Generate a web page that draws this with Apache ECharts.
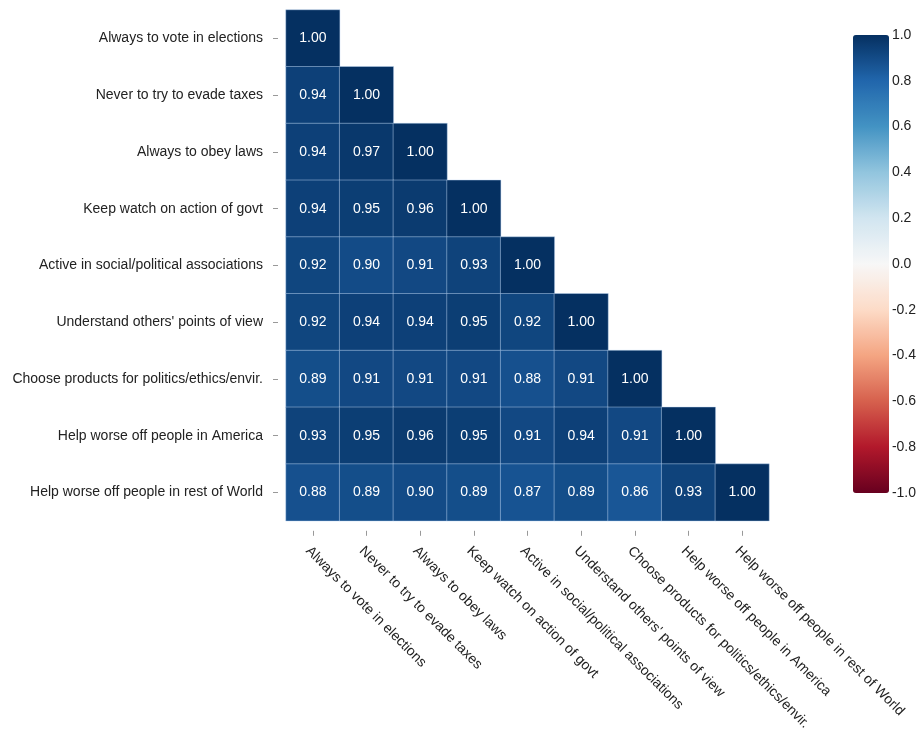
<!DOCTYPE html>
<html>
<head>
<meta charset="utf-8">
<script src="https://cdn.jsdelivr.net/npm/echarts@6/dist/echarts.min.js"></script>
<style>
  html, body { margin: 0; padding: 0; background: #fff; }
  #chart { width: 919px; height: 733px; }
</style>
</head>
<body>
<div id="chart"></div>
<script>
// Survey items (same order on both axes)
const items = [
  'Always to vote in elections',
  'Never to try to evade taxes',
  'Always to obey laws',
  'Keep watch on action of govt',
  'Active in social/political associations',
  "Understand others' points of view",
  'Choose products for politics/ethics/envir.',
  'Help worse off people in America',
  'Help worse off people in rest of World'
];

// Lower-triangle correlation rows (row i holds columns 0..i)
const row0 = [1.00];
const row1 = [0.94, 1.00];
const row2 = [0.94, 0.97, 1.00];
const row3 = [0.94, 0.95, 0.96, 1.00];
const row4 = [0.92, 0.90, 0.91, 0.93, 1.00];
const row5 = [0.92, 0.94, 0.94, 0.95, 0.92, 1.00];
const row6 = [0.89, 0.91, 0.91, 0.91, 0.88, 0.91, 1.00];
const row7 = [0.93, 0.95, 0.96, 0.95, 0.91, 0.94, 0.91, 1.00];
const row8 = [0.88, 0.89, 0.90, 0.89, 0.87, 0.89, 0.86, 0.93, 1.00];
const rows = [row0, row1, row2, row3, row4, row5, row6, row7, row8];

// Diverging palette from -1 (red) to +1 (blue)
const rdbu = ['#67001f', '#b2182b', '#d6604d', '#f4a582', '#fddbc7', '#f7f7f7',
              '#d1e5f0', '#92c5de', '#4393c3', '#2166ac', '#053061'];

const cells = [];
rows.forEach((r, i) => r.forEach((v, j) => cells.push([j, i, v])));

const font = 'Liberation Sans, Arial, Helvetica, sans-serif';

const chart = echarts.init(document.getElementById('chart'));
chart.setOption({
  animation: false,
  grid: [
    { left: 286, top: 10, width: 483, height: 512 },
    { left: 853, top: 35, width: 36, height: 458 }
  ],
  xAxis: [
    {
      type: 'category', data: items, gridIndex: 0, offset: 10,
      axisLine: { show: false },
      axisTick: { show: true, alignWithLabel: true, length: 5, lineStyle: { color: '#999' } },
      axisLabel: {
        rotate: -45, margin: 13, interval: 0, verticalAlign: 'top',
        color: '#222', fontSize: 14, fontFamily: font
      },
      splitLine: { show: false }
    },
    { type: 'value', gridIndex: 1, show: false, min: 0, max: 1 }
  ],
  yAxis: [
    {
      type: 'category', data: items, gridIndex: 0, inverse: true, offset: 8,
      axisLine: { show: false },
      axisTick: { show: true, alignWithLabel: true, length: 5, lineStyle: { color: '#999' } },
      axisLabel: { margin: 15, interval: 0, color: '#222', fontSize: 14, fontFamily: font },
      splitLine: { show: false }
    },
    {
      type: 'value', gridIndex: 1, min: -1, max: 1, interval: 0.2, position: 'right',
      axisLine: { show: false }, axisTick: { show: false }, splitLine: { show: false },
      axisLabel: {
        margin: 5, color: '#222', fontSize: 14, fontFamily: font,
        formatter: v => (Math.abs(v) < 1e-9 ? 0 : v).toFixed(1)
      }
    }
  ],
  visualMap: {
    type: 'continuous', min: -1, max: 1, calculable: false,
    left: 853, top: 35, itemWidth: 36, itemHeight: 458, padding: 0,
    seriesIndex: 0,
    inRange: { color: rdbu }
  },
  series: [{
    type: 'heatmap',
    xAxisIndex: 0, yAxisIndex: 0,
    data: cells,
    itemStyle: { borderColor: 'rgba(190,215,245,0.45)', borderWidth: 1 },
    label: {
      show: true, color: '#fff', fontSize: 14, fontFamily: font,
      formatter: p => p.value[2].toFixed(2)
    },
    emphasis: { disabled: true }
  }]
});
</script>
</body>
</html>
